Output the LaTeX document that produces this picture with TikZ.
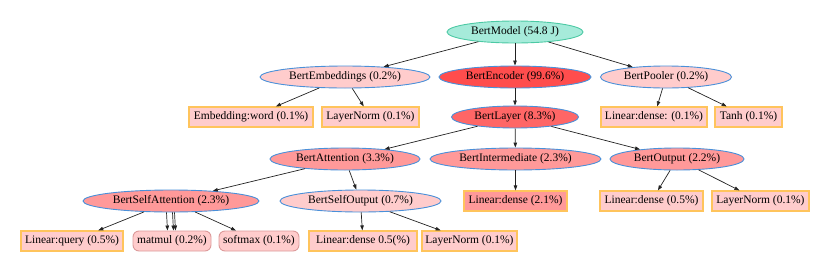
\documentclass[tikz,border=0pt]{standalone}
\usepackage{fontspec}
\setmainfont{Liberation Serif}
\usetikzlibrary{shapes.geometric,arrows.meta}
\definecolor{mintfill}{HTML}{A6EBDA}
\definecolor{mintdraw}{HTML}{4CC9A4}
\definecolor{bluedraw}{HTML}{4A90D9}
\definecolor{pinkfill}{HTML}{FFCCCC}
\definecolor{redA}{HTML}{FF4D4D}
\definecolor{redB}{HTML}{FF6666}
\definecolor{redC}{HTML}{FF9999}
\definecolor{orangedraw}{HTML}{FFC45C}
\definecolor{rounddraw}{HTML}{DC9A9A}
\definecolor{edgecol}{HTML}{222222}
\tikzset{
  base/.style={font=\fontsize{11.5}{13}\selectfont, inner sep=0pt, line width=0.9pt},
  ell/.style={base, ellipse, draw=bluedraw, minimum height=22pt},
  box/.style={base, rectangle, draw=orangedraw, line width=1.2pt, fill=pinkfill, minimum height=20pt},
  rbox/.style={base, rectangle, rounded corners=6pt, draw=rounddraw, line width=0.9pt, fill=pinkfill, minimum height=20pt},
  edge/.style={draw=edgecol, line width=0.7pt, -{Triangle[length=5pt,width=3.5pt]}},
}
\begin{document}
\begin{tikzpicture}[x=1pt,y=-1pt]
\useasboundingbox (0,0) rectangle (830,271);
% row 1
\node[ell, draw=mintdraw, fill=mintfill, minimum width=136pt] (bm) at (515,32) {BertModel (54.8 J)};
% row 2
\node[ell, fill=pinkfill, minimum width=170pt] (emb) at (345,77) {BertEmbeddings (0.2\%)};
\node[ell, fill=redA, minimum width=152pt] (enc) at (515,77) {BertEncoder (99.6\%)};
\node[ell, fill=pinkfill, minimum width=131pt] (pool) at (666,77) {BertPooler (0.2\%)};
% row 3
\node[box, minimum width=124pt] (ew) at (251,117) {Embedding:word (0.1\%)};
\node[box, minimum width=97pt] (ln1) at (370.5,117) {LayerNorm (0.1\%)};
\node[ell, fill=redB, minimum width=127pt] (layer) at (515,117) {BertLayer (8.3\%)};
\node[box, minimum width=106pt] (ld1) at (654,117) {Linear:dense: (0.1\%)};
\node[box, minimum width=67pt] (tanh) at (748.5,117) {Tanh (0.1\%)};
% row 4
\node[ell, fill=redC, minimum width=150pt] (att) at (345,159) {BertAttention (3.3\%)};
\node[ell, fill=redC, minimum width=171pt] (inter) at (515.5,159) {BertIntermediate (2.3\%)};
\node[ell, fill=redC, minimum width=134pt] (out) at (677,159) {BertOutput (2.2\%)};
% row 5
\node[ell, fill=redC, minimum width=176pt] (sa) at (171,201) {BertSelfAttention (2.3\%)};
\node[ell, fill=pinkfill, minimum width=161pt] (so) at (360.5,201) {BertSelfOutput (0.7\%)};
\node[box, fill=redC, minimum width=103pt] (ld21) at (515.5,201) {Linear:dense (2.1\%)};
\node[box, minimum width=103pt] (ld05) at (651.5,201) {Linear:dense (0.5\%)};
\node[box, minimum width=97pt] (ln3) at (760.5,201) {LayerNorm (0.1\%)};
% row 6
\node[box, minimum width=102pt] (lq) at (72,241) {Linear:query (0.5\%)};
\node[rbox, minimum width=78pt] (mm) at (172,241) {matmul (0.2\%)};
\node[rbox, minimum width=80pt] (sm) at (259,241) {softmax (0.1\%)};
\node[box, minimum width=108pt] (ld05b) at (363,241) {Linear:dense 0.5(\%)};
\node[box, minimum width=95pt] (ln4) at (469.5,241) {LayerNorm (0.1\%)};
% edges
\draw[edge] (bm) -- (emb);
\draw[edge] (bm) -- (enc);
\draw[edge] (bm) -- (pool);
\draw[edge] (emb) -- (ew);
\draw[edge] (emb) -- (ln1);
\draw[edge] (enc) -- (layer);
\draw[edge] (pool) -- (ld1);
\draw[edge] (pool) -- (tanh);
\draw[edge] (layer) -- (att);
\draw[edge] (layer) -- (inter);
\draw[edge] (layer) -- (out);
\draw[edge] (att) -- (sa);
\draw[edge] (att) -- (so);
\draw[edge] (inter) -- (ld21);
\draw[edge] (out) -- (ld05);
\draw[edge] (out) -- (ln3);
\draw[edge] (sa) -- (lq);
\draw[edge] ([xshift=-4.5pt]sa.south) -- ([xshift=-4.5pt]mm.north);
\draw[edge] ([xshift=1.5pt]sa.south) -- ([xshift=1.5pt]mm.north);
\draw[edge] ([xshift=3.5pt]sa.south) -- ([xshift=3.5pt]mm.north);
\draw[edge] (sa) -- (sm);
\draw[edge] (so) -- (ld05b);
\draw[edge] (so) -- (ln4);
\end{tikzpicture}
\end{document}
